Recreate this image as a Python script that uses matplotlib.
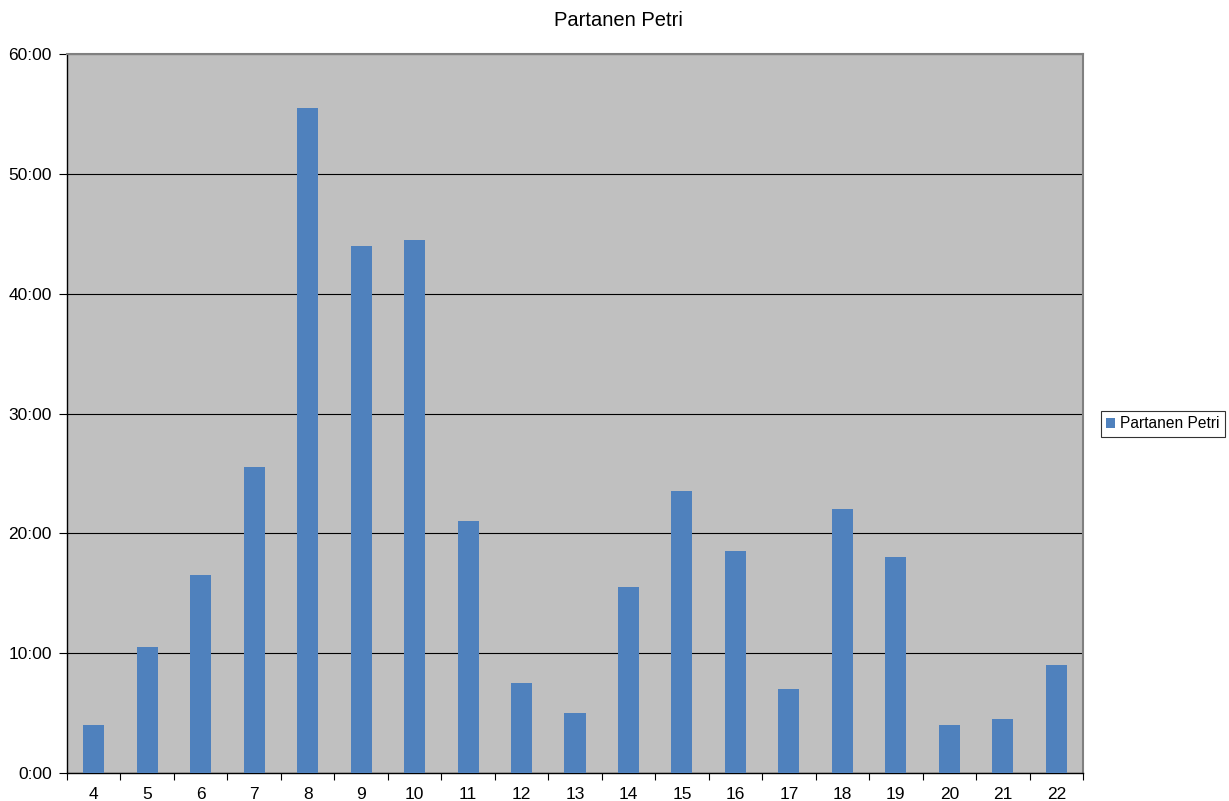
import matplotlib
matplotlib.use("Agg")
import matplotlib.pyplot as plt
from matplotlib.ticker import FuncFormatter, MultipleLocator

plt.rcParams['font.family'] = ['Liberation Sans', 'DejaVu Sans']

categories = ["4", "5", "6", "7", "8", "9", "10", "11", "12", "13", "14", "15", "16", "17", "18", "19", "20", "21", "22"]
minutes = [4.0, 10.5, 16.5, 25.5, 55.5, 44.0, 44.5, 21.0, 7.5, 5.0, 15.5, 23.5, 18.5, 7.0, 22.0, 18.0, 4.0, 4.5, 9.0]
series_name = "Partanen Petri"
title = "Partanen Petri"

fig = plt.figure(figsize=(12.29, 8.01), dpi=100)
ax = fig.add_axes([67/1229, 1-773/801, (1083-67)/1229, (773-54)/801])
ax.set_facecolor('#C0C0C0')

x = list(range(len(categories)))
ax.bar(x, minutes, width=0.393, color='#4F81BD', label=series_name, zorder=3)

ax.set_xlim(-0.5, len(categories) - 0.5)
ax.set_ylim(0, 60)
ax.yaxis.set_major_locator(MultipleLocator(10))
ax.yaxis.set_major_formatter(FuncFormatter(lambda v, p: f"{int(v)}:00"))
ax.grid(axis='y', color='black', linewidth=0.8, zorder=1)

ax.set_xticks(x)
ax.set_xticklabels(categories)
ax.set_xticks([i + 0.5 for i in range(-1, len(categories))], minor=True)
ax.tick_params(axis='x', which='major', length=0, pad=10, labelsize=12.5)
ax.tick_params(axis='x', which='minor', length=5, width=0.8, color='black', direction='out')
ax.tick_params(axis='y', length=6, width=0.8, color='black', direction='out', labelsize=12.5, pad=5)

for s in ['left', 'bottom']:
    ax.spines[s].set_color('black')
    ax.spines[s].set_linewidth(1.0)
for s in ['top', 'right']:
    ax.spines[s].set_color('#808080')
    ax.spines[s].set_linewidth(1.5)

fig.text(618/1229, 1-21/801, title, ha='center', va='center', fontsize=14.5)

leg = ax.legend(loc='center left', bbox_to_anchor=(1101/1229, 1-424/801), bbox_transform=fig.transFigure,
                frameon=True, fancybox=False, fontsize=11.2, handlelength=0.55, handleheight=0.55,
                handletextpad=0.3, borderpad=0.35, borderaxespad=0)
leg.get_frame().set_edgecolor('black')
leg.get_frame().set_linewidth(0.8)

fig.savefig('out.png', dpi=100)
